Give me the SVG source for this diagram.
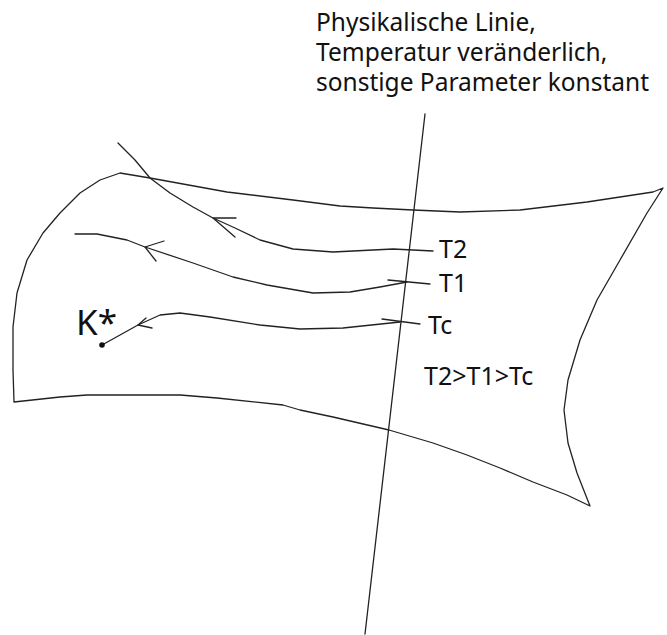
<svg xmlns="http://www.w3.org/2000/svg" width="667" height="635" viewBox="0 0 667 635">
<style>
.ln{fill:none;stroke:#222;stroke-width:1.3;stroke-linejoin:round;stroke-linecap:round}
.tx{font-family:"Noto Sans","DejaVu Sans",sans-serif;fill:#111}
</style>
<rect width="667" height="635" fill="#fff"/>
<g id="surface">
<path class="ln" d="M120,173 L150,178 L227,192 L293,200 L340,206 L373,208 L413,210 L460,212 L520,210 L587,202 L653,192 L663,188 L647,213 L620,260 L597,300 L580,340 L568,380 L564,410 L568,443 L577,473 L590,506 L567,495 L533,482 L500,468 L467,455 L433,443 L389,430 L333,417 L300,410 L283,405 L217,398 L180,395 L87,395 L60,397 L14,402 L13,370 L13,327 L17,293 L27,260 L43,233 L60,213 L80,193 L100,180 Z"/>
</g>
<g id="connectors">
<path id="physline" class="ln" d="M425,114 L365,634"/>
<path id="curveT2" class="ln" d="M118,143 L135,160 L150,178 L170,193 L193,207 L213,218 L235,228 L260,240 L293,249 L333,252 L393,249 L433,251"/>
<path class="ln" d="M236,218 L213,218 L235,237"/>
<path id="curveT1" class="ln" d="M75,234 L97,234 L127,240 L145,247 L193,263 L233,277 L267,285 L313,293 L350,292 L380,287 L407,282"/>
<path class="ln" d="M388,280 L430,284"/>
<path class="ln" d="M164,241 L145,247 L156,261"/>
<path id="curveTc" class="ln" d="M102,345 L138,325 L160,315 L180,313 L210,317 L260,325 L300,329 L343,328 L400,322"/>
<path class="ln" d="M382,319 L420,324"/>
<path class="ln" d="M146,318 L138,325 L152,328"/>
</g>
<g id="kstar">
<circle cx="102" cy="345" r="2.8" fill="#111"/>
<text class="tx" x="76" y="335" font-size="35">K*</text>
</g>
<g id="labels">
<text class="tx" x="316" y="31" font-size="24.5">Physikalische Linie,</text>
<text class="tx" x="316" y="61" font-size="24.5">Temperatur veränderlich,</text>
<text class="tx" x="316" y="91" font-size="24.5">sonstige Parameter konstant</text>
<text class="tx" x="439" y="258" font-size="25">T2</text>
<text class="tx" x="439" y="292" font-size="25">T1</text>
<text class="tx" x="428" y="334" font-size="25">Tc</text>
<text class="tx" x="424" y="385" font-size="25">T2&gt;T1&gt;Tc</text>
</g>
</svg>
